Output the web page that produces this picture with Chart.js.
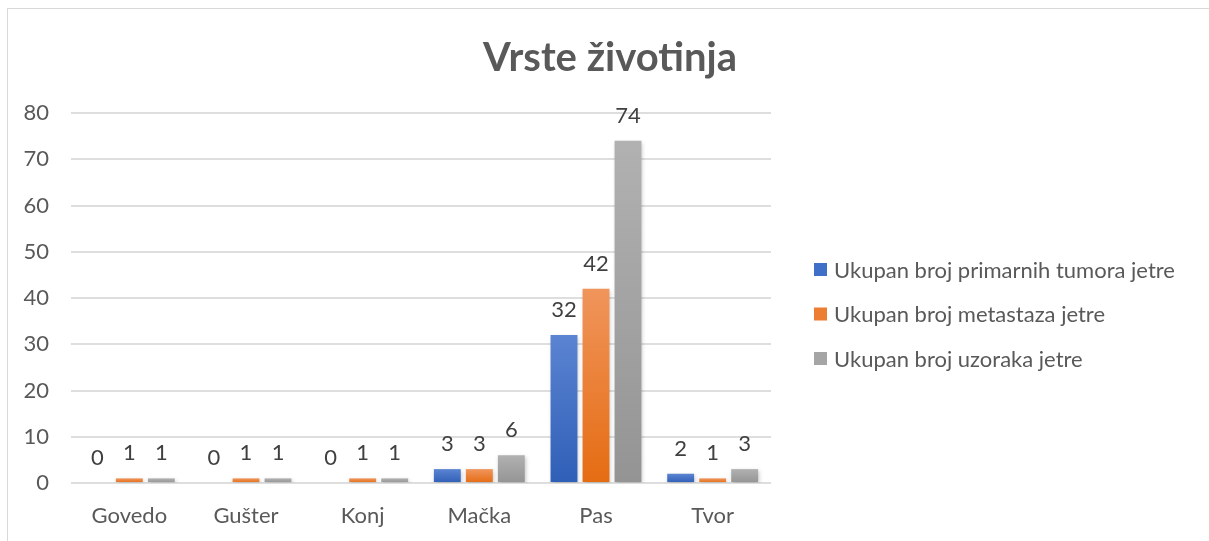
<!DOCTYPE html>
<html>
<head>
<meta charset="utf-8">
<script src="https://cdn.jsdelivr.net/npm/chart.js@4"></script>
<style>
    html, body { margin: 0; padding: 0; background: #fff; }
    #wrap { position: absolute; left: 7px; top: 8px; width: 1210px; height: 540px; border: 1px solid #d9d9d9; box-sizing: border-box; }
    #chart { position: absolute; left: 0; top: 0; }
</style>
</head>
<body>
<div id="wrap"></div>
<canvas id="chart" width="1209" height="541"></canvas>
<script>
// Chart data
const categories = ['Govedo', 'Gušter', 'Konj', 'Mačka', 'Pas', 'Tvor'];
const primarniTumori = [0, 0, 0, 3, 32, 2];
const metastaze = [1, 1, 1, 3, 42, 1];
const uzorci = [1, 1, 1, 6, 74, 3];
const yTicks = [0, 10, 20, 30, 40, 50, 60, 70, 80];

const chartTitle = 'Vrste životinja';
const seriesNames = [
    'Ukupan broj primarnih tumora jetre',
    'Ukupan broj metastaza jetre',
    'Ukupan broj uzoraka jetre'
];
const legendColors = ['#3f6fc6', '#ed7d31', '#a5a5a5'];

const textColor = '#595959';
const fontFamily = 'Lato, "Open Sans", sans-serif';

// per-bar vertical gradient, like the Excel fill
function barGradient(top, bottom) {
    return function(ctx) {
        const chart = ctx.chart;
        if (ctx.type !== 'data' || !chart.chartArea) return bottom;
        const y = chart.scales.y;
        const yTop = y.getPixelForValue(ctx.raw);
        const yBase = y.getPixelForValue(0);
        if (Math.abs(yBase - yTop) < 1) return bottom;
        const g = chart.ctx.createLinearGradient(0, yTop, 0, yBase);
        g.addColorStop(0, top);
        g.addColorStop(1, bottom);
        return g;
    };
}

// values above bars
const valueLabels = {
    id: 'valueLabels',
    afterDatasetsDraw(chart) {
        const ctx = chart.ctx;
        ctx.save();
        ctx.font = '22px ' + fontFamily;
        ctx.fillStyle = '#404040';
        ctx.textAlign = 'center';
        ctx.textBaseline = 'alphabetic';
        chart.data.datasets.forEach(function(ds, i) {
            const meta = chart.getDatasetMeta(i);
            meta.data.forEach(function(bar, j) {
                ctx.fillText(String(ds.data[j]), bar.x, bar.y - 18);
            });
        });
        ctx.restore();
    }
};

// soft shadow under bars
const barShadow = {
    id: 'barShadow',
    beforeDatasetsDraw(chart) {
        const ctx = chart.ctx;
        ctx.save();
        ctx.shadowColor = 'rgba(0,0,0,0.22)';
        ctx.shadowBlur = 4;
        ctx.shadowOffsetX = 1;
        ctx.shadowOffsetY = 2;
    },
    afterDatasetsDraw(chart) {
        chart.ctx.restore();
    }
};

// title centred on the whole chart + legend on the right of the plot
const decorations = {
    id: 'decorations',
    afterDraw(chart) {
        const ctx = chart.ctx;
        const area = chart.chartArea;
        ctx.save();
        ctx.fillStyle = textColor;
        ctx.font = 'bold 40px ' + fontFamily;
        ctx.textAlign = 'center';
        ctx.textBaseline = 'middle';
        ctx.fillText(chartTitle, 610, 58);

        const x0 = area.right + 43;
        const yMid = (area.top + area.bottom) / 2 + 16;
        const step = 44.5;
        ctx.font = '22px ' + fontFamily;
        ctx.textAlign = 'left';
        chart.data.datasets.forEach(function(ds, i) {
            const y = yMid + (i - 1) * step;
            ctx.fillStyle = legendColors[i];
            ctx.fillRect(x0, y - 6.5, 13, 13);
            ctx.fillStyle = textColor;
            ctx.fillText(ds.label, x0 + 20, y + 1);
        });
        ctx.restore();
    }
};

const ctx = document.getElementById('chart');
new Chart(ctx, {
    type: 'bar',
    data: {
        labels: categories,
        datasets: [
            { label: seriesNames[0], data: primarniTumori, backgroundColor: barGradient('#5b84d2', '#2f5fb7') },
            { label: seriesNames[1], data: metastaze, backgroundColor: barGradient('#f0955c', '#e56c12') },
            { label: seriesNames[2], data: uzorci, backgroundColor: barGradient('#b1b1b1', '#949494') }
        ]
    },
    plugins: [barShadow, valueLabels, decorations],
    options: {
        responsive: false,
        animation: false,
        devicePixelRatio: 1,
        datasets: {
            bar: { categoryPercentage: 0.823, barPercentage: 0.84 }
        },
        layout: { padding: { left: 0, right: 438, top: 113, bottom: 0 } },
        plugins: {
            title: { display: false },
            legend: { display: false },
            tooltip: { enabled: false }
        },
        scales: {
            x: {
                grid: { display: false, drawTicks: false },
                border: { display: false },
                ticks: { color: textColor, font: { family: fontFamily, size: 22 }, padding: 20 },
                afterFit(scale) { scale.height = 58; }
            },
            y: {
                min: 0,
                max: 80,
                afterBuildTicks(axis) {
                    axis.ticks = yTicks.map(function(v) { return { value: v }; });
                },
                grid: { color: '#dedede', lineWidth: 2, drawTicks: false },
                border: { display: false },
                ticks: { color: textColor, font: { family: fontFamily, size: 22 }, padding: 22 },
                afterFit(scale) { scale.width = 71; }
            }
        }
    }
});
</script>
</body>
</html>
